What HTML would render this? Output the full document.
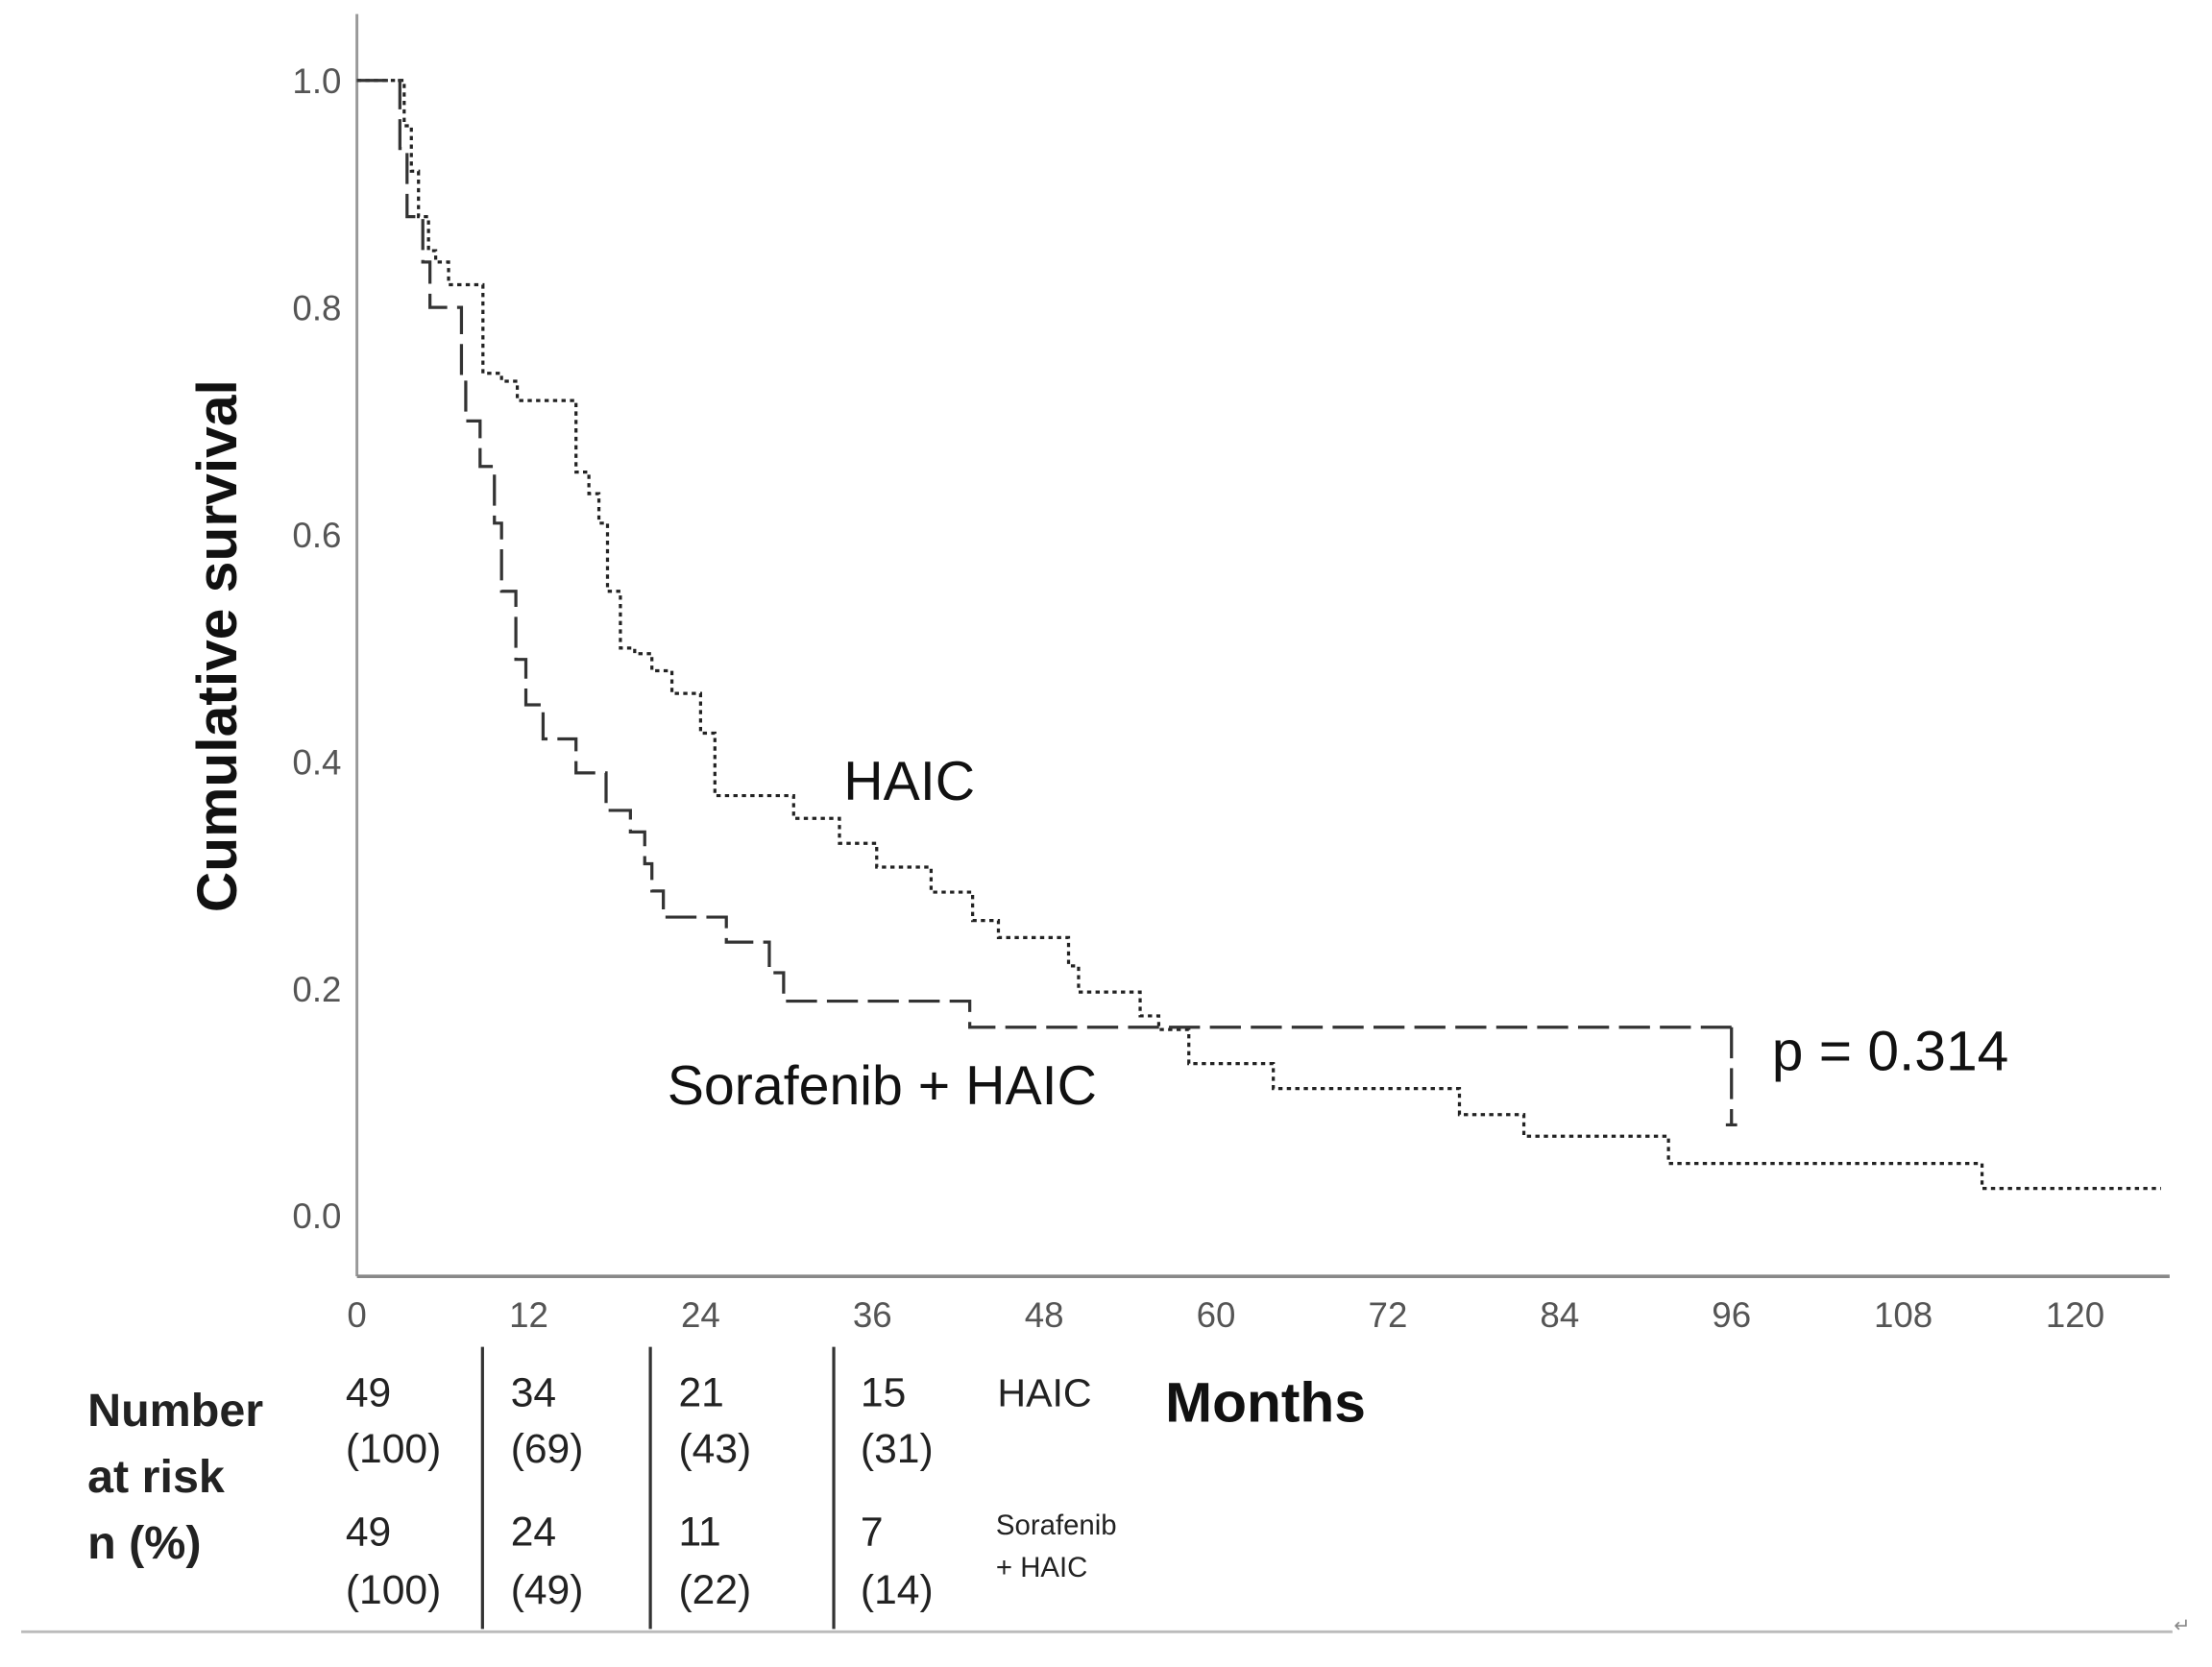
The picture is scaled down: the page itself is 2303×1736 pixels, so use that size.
<!DOCTYPE html>
<html><head><meta charset="utf-8">
<style>
html,body{margin:0;padding:0;background:#fff;}
svg{display:block;}
text{font-family:"Liberation Sans",sans-serif;}
</style></head>
<body>
<svg id="chart" width="2303" height="1736" viewBox="0 0 1568 1182" xmlns="http://www.w3.org/2000/svg">
<g id="axes"></g>
<g id="series"></g>
<text x="157" y="458" transform="rotate(-90 157 458)" text-anchor="middle" dominant-baseline="middle" font-size="40" font-weight="bold" fill="#111">Cumulative survival</text>
<text x="826" y="1008" font-size="40" font-weight="bold" fill="#111">Months</text>
<text x="598" y="567" font-size="39" fill="#111">HAIC</text>
<text x="473" y="783" font-size="39" fill="#111">Sorafenib + HAIC</text>
<text x="1256" y="759" font-size="40" fill="#111">p = 0.314</text>
<g id="risk"></g>
<line x1="15" y1="1157" x2="1540" y2="1157" stroke="#bbb" stroke-width="2"/>
<text x="1541" y="1157" font-size="14" fill="#888">↵</text>
</svg>
<script>
const xTicks = [0,12,24,36,48,60,72,84,96,108,120];
const yTicks = [0.0,0.2,0.4,0.6,0.8,1.0];
const haicMonths = [0,3.3,3.8,4.3,5,5.5,6.4,8.8,10.1,11.2,15,15.3,16.2,16.9,17.5,18.4,19.4,20.6,22,24,25,30.5,33.7,36.3,40.1,43,44.8,49.7,50.4,54.7,56,58.1,64,77,81.5,91.6,113.5,126];
const haicSurv = [1.0,0.96,0.92,0.88,0.85,0.84,0.82,0.742,0.735,0.718,0.718,0.655,0.636,0.61,0.55,0.50,0.495,0.48,0.46,0.425,0.37,0.35,0.328,0.307,0.285,0.26,0.245,0.22,0.197,0.176,0.164,0.134,0.112,0.089,0.07,0.046,0.024,0.024];
const sorMonths = [0,3,3.5,4.6,5.1,5.9,7.3,7.6,8.6,9.6,10.1,11.1,11.8,13,13.3,15.3,17.4,19.1,20.1,20.6,21.4,25.8,28.8,29.8,42.8,96];
const sorSurv = [1.0,0.94,0.88,0.84,0.80,0.80,0.74,0.70,0.66,0.61,0.55,0.49,0.45,0.42,0.42,0.39,0.357,0.338,0.31,0.286,0.263,0.241,0.214,0.189,0.166,0.166];
const sorCensorEnd = 0.08;
const riskTimes = [0,12,24,36];
const riskHaicN = ["49","34","21","15"];
const riskHaicPct = ["(100)","(69)","(43)","(31)"];
const riskSorN = ["49","24","11","7"];
const riskSorPct = ["(100)","(49)","(22)","(14)"];

const NS="http://www.w3.org/2000/svg";
const X0=253, PXM=10.15, Y0=862, PXV=805;
const xs=m=>X0+m*PXM, ys=v=>Y0-v*PXV;
function mk(tag,attrs,parent){const e=document.createElementNS(NS,tag);for(const k in attrs)e.setAttribute(k,attrs[k]);parent.appendChild(e);return e;}
const axes=document.getElementById('axes');
let a=mk('line',{x1:X0,y1:10,x2:X0,y2:905,stroke:'#999','stroke-width':2},axes);


a=mk('line',{x1:X0,y1:905,x2:1538,y2:905,stroke:'#888','stroke-width':2.5},axes);


yTicks.forEach(v=>{const t=mk('text',{x:242,y:ys(v)+9,'text-anchor':'end','font-size':25,fill:'#555'},axes);t.textContent=v.toFixed(1);

});
xTicks.forEach(m=>{const t=mk('text',{x:xs(m),y:941,'text-anchor':'middle','font-size':25,fill:'#555'},axes);t.textContent=String(m);

});
function stepPath(ms,vs){let d=`M${xs(ms[0])},${ys(vs[0])}`;for(let i=1;i<ms.length;i++){d+=` H${xs(ms[i])} V${ys(vs[i])}`;}return d;}
const ser=document.getElementById('series');
let p=mk('path',{d:stepPath(haicMonths,haicSurv),fill:'none',stroke:'#222','stroke-width':2.2,'stroke-dasharray':'3 3'},ser);


p=mk('path',{d:stepPath(sorMonths,sorSurv)+` M${xs(sorMonths[sorMonths.length-1])},${ys(sorSurv[sorSurv.length-1])} V${ys(sorCensorEnd)} m-4,0 h8`,fill:'none',stroke:'#333','stroke-width':2.2,'stroke-dasharray':'22 7'},ser);


const risk=document.getElementById('risk');
const colX=[245,362,481,610];
function rt(x,y,s,fs,fw,name){const t=mk('text',{x:x,y:y,'font-size':fs,'font-weight':fw||'normal',fill:'#222'},risk);t.textContent=s;

return t;}
riskTimes.forEach((m,i)=>{rt(colX[i],997,riskHaicN[i],29,'normal','risk-haic-n');rt(colX[i],1037,riskHaicPct[i],29,'normal','risk-haic-pct');rt(colX[i],1096,riskSorN[i],29,'normal','risk-sor-n');rt(colX[i],1137,riskSorPct[i],29,'normal','risk-sor-pct');});
[342,461,591].forEach(x=>{const l=mk('line',{x1:x,y1:955,x2:x,y2:1155,stroke:'#333','stroke-width':2.2},risk);

});
rt(62,1011,'Number',33,'bold','risk-title');
rt(62,1058,'at risk',33,'bold','risk-title');
rt(62,1105,'n (%)',33,'bold','risk-title');
rt(707,997,'HAIC',28,'normal','risk-haic-label');
rt(706,1088,'Sorafenib',20,'normal','risk-sor-label');
rt(706,1118,'+ HAIC',20,'normal','risk-sor-label');
</script>
</body></html>
